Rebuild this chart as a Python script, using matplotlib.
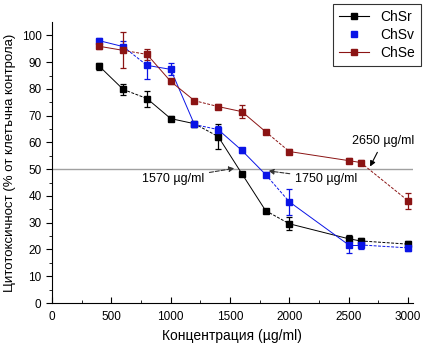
import numpy as np
import matplotlib.pyplot as plt

plt.rcParams['font.family'] = ['Liberation Sans', 'DejaVu Sans']

# Concentrations (ug/ml)
conc = [400, 600, 800, 1000, 1200, 1400, 1600, 1800, 2000, 2500, 2600, 3000]

# Cytotoxicity (% of cell control) for each sample
chsr = [88.4, 79.8, 76.4, 68.9, 67.0, 62.2, 48.3, 34.5, 29.6, 24.0, 23.2, 22.0]
chsr_err = [1.2, 2.0, 3.0, 0.8, 0.8, 4.5, 0.8, 0.8, 2.5, 1.5, 1.0, 1.0]

chsv = [98.0, 95.8, 88.8, 87.3, 66.7, 64.8, 57.0, 48.0, 37.8, 21.7, 21.7, 20.6]
chsv_err = [1.2, 2.0, 5.0, 2.2, 1.0, 1.5, 0.8, 0.8, 4.8, 3.0, 1.5, 1.0]

chse = [95.9, 94.4, 92.9, 82.8, 75.6, 73.4, 71.5, 64.0, 56.6, 53.2, 52.5, 38.2]
chse_err = [1.0, 6.7, 2.0, 1.0, 0.8, 0.8, 2.5, 0.8, 0.8, 0.8, 0.8, 3.0]

xticks = [0, 500, 1000, 1500, 2000, 2500, 3000]
yticks = [0, 10, 20, 30, 40, 50, 60, 70, 80, 90, 100]

fig = plt.figure(figsize=(4.28, 3.53), dpi=100)
ax = fig.add_axes([0.1215, 0.1416, 0.843, 0.7961])

# 50% reference line
ax.axhline(50, color='#a0a0a0', linewidth=1.0, zorder=1)

series = [
    (chsr, chsr_err, 'black', 'ChSr', '-'),
    (chsv, chsv_err, '#0a14e6', 'ChSv', 'None'),
    (chse, chse_err, '#8b1414', 'ChSe', '-'),
]
for vals, err, col, name, ls in series:
    # line segments, some dashed like the original
    for i in range(len(conc) - 1):
        seg_ls = (0, (3, 1.5)) if i % 3 == 1 else '-'
        ax.plot(conc[i:i + 2], vals[i:i + 2], color=col, linewidth=0.7,
                linestyle=seg_ls, zorder=2)
    ax.errorbar(conc, vals, yerr=err, fmt='s', color=col, markersize=5,
                elinewidth=0.9, capsize=2.5, capthick=0.9, zorder=3)
    # legend proxy
    ax.plot([], [], color=col, linestyle=ls, linewidth=0.8, marker='s',
            markersize=5, label=name)

# annotations of the IC50 concentrations
ax.annotate('1570 µg/ml', xy=(1560, 50.5), xytext=(1280, 46.5),
            fontsize=9, ha='right', va='center',
            arrowprops=dict(arrowstyle='-|>', linestyle='--', lw=0.8,
                            color='#333333', mutation_scale=8))
ax.annotate('1750 µg/ml', xy=(1800, 49.5), xytext=(2050, 46.5),
            fontsize=9, ha='left', va='center',
            arrowprops=dict(arrowstyle='-|>', linestyle='--', lw=0.8,
                            color='#333333', mutation_scale=8))
ax.annotate('2650 µg/ml', xy=(2680, 51), xytext=(2790, 60.5),
            fontsize=9, ha='center', va='center',
            arrowprops=dict(arrowstyle='-|>', lw=0.8, color='black',
                            mutation_scale=8, shrinkB=0))

ax.set_xlim(0, 3040)
ax.set_ylim(0, 105)
ax.set_xticks(xticks)
ax.set_yticks(yticks)
ax.set_xticks(np.arange(0, 3001, 250), minor=True)
ax.set_yticks(np.arange(0, 101, 5), minor=True)
ax.tick_params(axis='x', direction='in', length=4, labelsize=8.5, pad=6)
ax.tick_params(axis='x', which='minor', direction='in', length=2.5)
ax.tick_params(axis='y', direction='out', length=4, labelsize=8.5)
ax.tick_params(axis='y', which='minor', direction='out', length=2.5)
ax.spines['top'].set_visible(False)
ax.spines['right'].set_visible(False)

ax.set_xlabel('Концентрация (µg/ml)', fontsize=10)
ax.set_ylabel('Цитотоксичност (% от клетъчна контрола)', fontsize=9.5)

leg = ax.legend(loc='upper right', bbox_to_anchor=(0.983, 0.988),
                bbox_transform=fig.transFigure, fontsize=10,
                frameon=True, fancybox=False, edgecolor='black',
                handlelength=2.2, borderpad=0.4, labelspacing=0.3,
                borderaxespad=0)
leg.get_frame().set_linewidth(0.8)

fig.savefig('out.png', dpi=100)
